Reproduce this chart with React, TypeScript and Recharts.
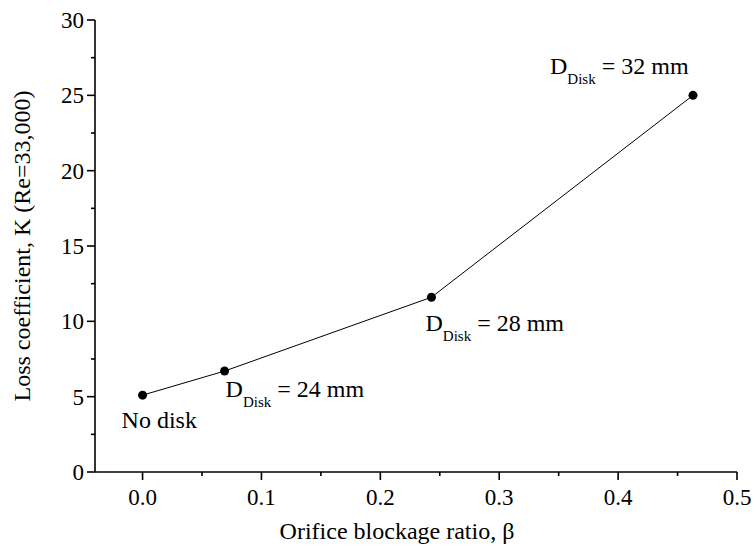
import React from 'react';
import { LabelList, Line, LineChart, XAxis, YAxis } from 'recharts';

const blockage = [0, 0.069, 0.243, 0.463];
const lossK = [5.1, 6.7, 11.6, 25.0];
const diskSizes = [null, 24, 28, 32];

const xTicks = [0, 0.05, 0.1, 0.15, 0.2, 0.25, 0.3, 0.35, 0.4, 0.45, 0.5];
const yTicks = [0, 2.5, 5, 7.5, 10, 12.5, 15, 17.5, 20, 22.5, 25, 27.5, 30];

const FONT = '"Liberation Serif", "Times New Roman", serif';
const MAJOR = 8;
const MINOR = 4;
const txt = { fontFamily: FONT };

const data = blockage.map((b, i) => ({ beta: b, k: lossK[i], disk: diskSizes[i] }));

// offsets of the annotation text from its point
const labelOffsets = [
  { dx: -21, dy: 33 },
  { dx: 1, dy: 26 },
  { dx: -6, dy: 34 },
  { dx: -143, dy: -21 },
];

const isMajorX = (v: number) => Math.abs(v * 10 - Math.round(v * 10)) < 1e-6;
const isMajorY = (v: number) => Math.abs(v / 5 - Math.round(v / 5)) < 1e-6;

function BottomTick({ x, y, payload }: any) {
  const major = isMajorX(payload.value);
  return (
    <g>
      <line x1={x} x2={x} y1={y} y2={y + (major ? MAJOR : MINOR)} stroke="#000" strokeWidth={1.6} />
      {major && (
        <text x={x} y={y + 33} textAnchor="middle" style={txt} fontSize={23} fill="#000">
          {payload.value.toFixed(1)}
        </text>
      )}
    </g>
  );
}

function TopTick({ x, y, payload }: any) {
  const major = isMajorX(payload.value);
  return <line x1={x} x2={x} y1={y} y2={y + (major ? MAJOR : MINOR)} stroke="#000" strokeWidth={1.6} />;
}

function LeftTick({ x, y, payload }: any) {
  const major = isMajorY(payload.value);
  return (
    <g>
      <line x1={x} x2={x - (major ? MAJOR : MINOR)} y1={y} y2={y} stroke="#000" strokeWidth={1.6} />
      {major && (
        <text x={x - 11} y={y + 8} textAnchor="end" style={txt} fontSize={23} fill="#000">
          {payload.value}
        </text>
      )}
    </g>
  );
}

function RightTick({ x, y, payload }: any) {
  const major = isMajorY(payload.value);
  return <line x1={x} x2={x - (major ? MAJOR : MINOR)} y1={y} y2={y} stroke="#000" strokeWidth={1.6} />;
}

function PointLabel(props: any) {
  const { x, y, index } = props;
  const off = labelOffsets[index];
  const size = diskSizes[index];
  if (size === null) {
    return (
      <text x={x + off.dx} y={y + off.dy} style={txt} fontSize={24} fill="#000">
        No disk
      </text>
    );
  }
  return (
    <text x={x + off.dx} y={y + off.dy} style={txt} fontSize={24} fill="#000">
      D
      <tspan fontSize={15} dy={10}>Disk</tspan>
      <tspan dy={-10}>{` = ${size} mm`}</tspan>
    </text>
  );
}

export default function App() {
  return (
    <div
      style={{ position: 'absolute', left: 0, top: 0, width: 755, height: 554, background: '#fff', fontFamily: FONT }}
    >
      <LineChart width={755} height={554} data={data} margin={{ top: 20, right: 18, bottom: 52, left: 35 }}>
        <XAxis
          xAxisId="bottom"
          dataKey="beta"
          type="number"
          domain={[-0.04, 0.5]}
          ticks={xTicks}
          allowDataOverflow
          height={30}
          tickSize={0}
          tickMargin={0}
          tickLine={false}
          tick={<BottomTick />}
          axisLine={{ stroke: '#000', strokeWidth: 1.6 }}
          interval={0}
          label={{
            content: ({ viewBox }: any) => (
              <text
                x={viewBox.x + viewBox.width / 2 - 19}
                y={539}
                textAnchor="middle"
                style={txt}
                fontSize={24}
                fill="#000"
              >
                Orifice blockage ratio, β
              </text>
            ),
          }}
        />
        <XAxis
          xAxisId="top"
          orientation="top"
          dataKey="beta"
          type="number"
          domain={[-0.04, 0.5]}
          ticks={xTicks}
          allowDataOverflow
          height={0}
          tickSize={0}
          tickMargin={0}
          tickLine={false}
          tick={<TopTick />}
          axisLine={{ stroke: '#000', strokeWidth: 1.6 }}
          interval={0}
        />
        <YAxis
          yAxisId="left"
          type="number"
          domain={[0, 30]}
          ticks={yTicks}
          width={60}
          tickSize={0}
          tickMargin={0}
          tickLine={false}
          tick={<LeftTick />}
          axisLine={{ stroke: '#000', strokeWidth: 1.6 }}
          interval={0}
          label={{
            content: ({ viewBox }: any) => {
              const cy = viewBox.y + viewBox.height / 2;
              return (
                <text
                  x={30}
                  y={cy}
                  transform={`rotate(-90, 30, ${cy})`}
                  textAnchor="middle"
                  style={txt}
                  fontSize={24}
                  fill="#000"
                >
                  Loss coefficient, K (Re=33,000)
                </text>
              );
            },
          }}
        />
        <YAxis
          yAxisId="right"
          orientation="right"
          type="number"
          domain={[0, 30]}
          ticks={yTicks}
          width={0}
          tickSize={0}
          tickMargin={0}
          tickLine={false}
          tick={<RightTick />}
          axisLine={{ stroke: '#000', strokeWidth: 1.6 }}
          interval={0}
        />
        <Line
          xAxisId="bottom"
          yAxisId="left"
          type="linear"
          dataKey="k"
          stroke="#000"
          strokeWidth={1}
          dot={{ r: 4.5, fill: '#000', stroke: '#000', strokeWidth: 0 }}
          isAnimationActive={false}
        >
          <LabelList dataKey="disk" content={<PointLabel />} />
        </Line>
      </LineChart>
    </div>
  );
}
